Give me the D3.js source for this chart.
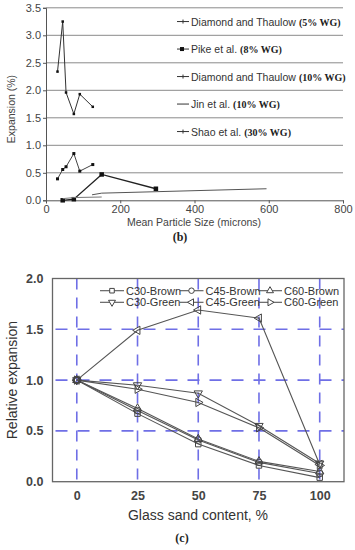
<!DOCTYPE html>
<html><head><meta charset="utf-8">
<script src="https://cdn.jsdelivr.net/npm/d3@7"></script>
<style>body{margin:0;background:#fff}svg{display:block}</style>
</head><body>
<script>
// ---- Chart (b) data ----
const bNames = ["Diamond and Thaulow", "Pike et al.", "Diamond and Thaulow", "Jin et al.", "Shao et al."];
const bTags = ["(5% WG)", "(8% WG)", "(10% WG)", "(10% WG)", "(30% WG)"];
const dt5X = [31, 45, 54, 75, 91, 126];
const dt5Y = [2.34, 3.25, 1.96, 1.57, 1.93, 1.70];
const pikeX = [45, 75, 150, 296];
const pikeY = [0.0, 0.02, 0.47, 0.21];
const dt10X = [31, 45, 54, 75, 91, 126];
const dt10Y = [0.39, 0.56, 0.61, 0.85, 0.53, 0.65];
const jinX = [45, 75, 150];
const jinY = [0.03, 0.05, 0.06];
const shaoX = [124, 150, 594];
const shaoY = [0.10, 0.13, 0.21];
const bXTicks = [0, 200, 400, 600, 800];
const bYTicks = [0, 0.5, 1.0, 1.5, 2.0, 2.5, 3.0, 3.5];

// ---- Chart (c) data ----
const cX = [0, 25, 50, 75, 100];
const cNames = ["C30-Brown", "C45-Brown", "C60-Brown", "C30-Green", "C45-Green", "C60-Green"];
const c30Brown = [1.0, 0.67, 0.37, 0.16, 0.04];
const c45Brown = [1.0, 0.70, 0.41, 0.19, 0.08];
const c60Brown = [1.0, 0.72, 0.42, 0.20, 0.10];
const c30Green = [1.0, 0.95, 0.87, 0.55, 0.18];
const c45Green = [1.0, 1.49, 1.69, 1.61, 0.17];
const c60Green = [1.0, 0.91, 0.78, 0.53, 0.16];
const cXTicks = [0, 25, 50, 75, 100];
const cYTicks = [0.0, 0.5, 1.0, 1.5, 2.0];

const svg = d3.select("body").append("svg").attr("width", 355).attr("height", 550);

// ================= Chart (b) =================
const bx = d3.scaleLinear().domain([0, 800]).range([46, 343]);
const by = d3.scaleLinear().domain([0, 3.5]).range([200.3, 7.8]);
const gb = svg.append("g");

gb.selectAll(".gl").data(bYTicks.filter(v => v > 0)).join("line")
  .attr("x1", bx(0)).attr("x2", bx(800)).attr("y1", d => by(d)).attr("y2", d => by(d))
  .attr("stroke", "#8a8a8a").attr("stroke-width", 1);

const bxAxis = d3.axisBottom(bx).tickValues(bXTicks).tickSize(3).tickPadding(2).tickFormat(d3.format("d"));
const byAxis = d3.axisLeft(by).tickValues(bYTicks).tickSize(3).tickPadding(2).tickFormat(d3.format(".1f"));
const gbx = gb.append("g").attr("transform", `translate(0,${by(0)})`).call(bxAxis);
const gby = gb.append("g").attr("transform", `translate(${bx(0)},0)`).call(byAxis);
[gbx, gby].forEach(g => {
  g.select(".domain").attr("stroke", "#555");
  g.selectAll(".tick line").attr("stroke", "#555");
  g.selectAll("text").attr("font-family", "Arial, Liberation Sans, sans-serif").attr("font-size", 11).attr("fill", "#444");
});
gb.append("text").attr("x", 194).attr("y", 226).attr("text-anchor", "middle")
  .attr("font-family", "Arial, Liberation Sans, sans-serif").attr("font-size", 10.5).attr("fill", "#444")
  .text("Mean Particle Size (microns)");
gb.append("text").attr("transform", `translate(15,${(by(0) + by(3.5)) / 2 + 5}) rotate(-90)`)
  .attr("text-anchor", "middle").attr("font-family", "Arial, Liberation Sans, sans-serif")
  .attr("font-size", 10.5).attr("fill", "#444").text("Expansion (%)");
gb.append("text").attr("x", 180).attr("y", 241).attr("text-anchor", "middle")
  .attr("font-family", "Times New Roman, Liberation Serif, serif").attr("font-weight", "bold")
  .attr("font-size", 12).attr("fill", "#222").text("(b)");

const bSeries = [
  {xs: dt5X, ys: dt5Y, color: "#333", w: 1, mark: "dot"},
  {xs: pikeX, ys: pikeY, color: "#222", w: 1.3, mark: "sq"},
  {xs: dt10X, ys: dt10Y, color: "#444", w: 1, mark: "small"},
  {xs: jinX, ys: jinY, color: "#777", w: 1, mark: "none"},
  {xs: shaoX, ys: shaoY, color: "#555", w: 1, mark: "tick"}
];
const bLine = d3.line().x(d => bx(d[0])).y(d => by(d[1]));
bSeries.forEach(s => {
  const pts = s.xs.map((x, i) => [x, s.ys[i]]);
  gb.append("path").datum(pts).attr("d", bLine).attr("fill", "none")
    .attr("stroke", s.color).attr("stroke-width", s.w);
  if (s.mark === "dot" || s.mark === "small" || s.mark === "sq") {
    const sz = s.mark === "sq" ? 4.5 : (s.mark === "small" ? 3 : 2.5);
    gb.selectAll(null).data(pts).join("rect")
      .attr("x", d => bx(d[0]) - sz / 2).attr("y", d => by(d[1]) - sz / 2)
      .attr("width", sz).attr("height", sz).attr("fill", "#111");
  }
});

// legend (b)
const legRows = [3.25, 2.75, 2.25, 1.75, 1.25];
bNames.forEach((n, i) => {
  const y = by(legRows[i]);
  const g = gb.append("g");
  g.append("line").attr("x1", 177).attr("x2", 189).attr("y1", y).attr("y2", y)
    .attr("stroke", "#333").attr("stroke-width", 1);
  if (i === 1) g.append("rect").attr("x", 180).attr("y", y - 2).attr("width", 4).attr("height", 4).attr("fill", "#111");
  else if (i !== 3) g.append("line").attr("x1", 183).attr("x2", 183).attr("y1", y - 2).attr("y2", y + 2).attr("stroke", "#333");
  const t = g.append("text").attr("x", 191).attr("y", y + 4)
    .attr("font-family", "Arial, Liberation Sans, sans-serif").attr("font-size", 10.5).attr("fill", "#333");
  t.append("tspan").text(n);
  t.append("tspan").attr("dx", 3).attr("font-family", "Times New Roman, Liberation Serif, serif")
    .attr("font-weight", "bold").attr("font-size", 10).attr("fill", "#222").text(bTags[i]);
});

// ================= Chart (c) =================
const cx = d3.scaleLinear().domain([-10, 110]).range([52.5, 344]);
const cy = d3.scaleLinear().domain([0, 2]).range([481.7, 278.5]);
const gc = svg.append("g");
const blue = "#6f6fe6";
gc.selectAll(".vg").data(cXTicks).join("line")
  .attr("x1", d => cx(d)).attr("x2", d => cx(d)).attr("y1", cy(2)).attr("y2", cy(0))
  .attr("stroke", blue).attr("stroke-width", 1.6).attr("stroke-dasharray", "11,8");
gc.selectAll(".hg").data([0.5, 1.0, 1.5]).join("line")
  .attr("x1", cx(-10)).attr("x2", cx(110)).attr("y1", d => cy(d)).attr("y2", d => cy(d))
  .attr("stroke", blue).attr("stroke-width", 1.6).attr("stroke-dasharray", "12,10").attr("stroke-dashoffset", -3);

gc.append("rect").attr("x", cx(-10)).attr("y", cy(2)).attr("width", cx(110) - cx(-10))
  .attr("height", cy(0) - cy(2)).attr("fill", "none").attr("stroke", "#666").attr("stroke-width", 1.3);

const cxAxis = d3.axisBottom(cx).tickValues(cXTicks).tickSize(0).tickPadding(9);
const cyAxis = d3.axisLeft(cy).tickValues(cYTicks).tickSize(0).tickPadding(9).tickFormat(d3.format(".1f"));
const gcx = gc.append("g").attr("transform", `translate(0,${cy(0)})`).call(cxAxis);
const gcy = gc.append("g").attr("transform", `translate(${cx(-10)},0)`).call(cyAxis);
[gcx, gcy].forEach(g => {
  g.select(".domain").remove();
  g.selectAll("text").attr("font-family", "Arial, Liberation Sans, sans-serif").attr("font-size", 12.5)
    .attr("font-weight", "bold").attr("fill", "#444");
});
gc.append("text").attr("x", 198).attr("y", 520).attr("text-anchor", "middle")
  .attr("font-family", "Arial, Liberation Sans, sans-serif").attr("font-size", 14).attr("fill", "#333")
  .text("Glass sand content, %");
gc.append("text").attr("transform", `translate(17,${cy(1)}) rotate(-90)`).attr("text-anchor", "middle")
  .attr("font-family", "Arial, Liberation Sans, sans-serif").attr("font-size", 14).attr("fill", "#333")
  .text("Relative expansion");
gc.append("text").attr("x", 182).attr("y", 542).attr("text-anchor", "middle")
  .attr("font-family", "Times New Roman, Liberation Serif, serif").attr("font-weight", "bold")
  .attr("font-size", 12).attr("fill", "#222").text("(c)");

const cSeries = [
  {vals: c30Brown, type: d3.symbolSquare, rot: 0, size: 30},
  {vals: c45Brown, type: d3.symbolCircle, rot: 0, size: 34},
  {vals: c60Brown, type: d3.symbolTriangle, rot: 0, size: 30},
  {vals: c30Green, type: d3.symbolTriangle, rot: 180, size: 30},
  {vals: c45Green, type: d3.symbolTriangle, rot: -90, size: 30},
  {vals: c60Green, type: d3.symbolTriangle, rot: 90, size: 30}
];
const cLine = d3.line().x(d => cx(d[0])).y(d => cy(d[1]));
cSeries.forEach(s => {
  const pts = cX.map((x, i) => [x, s.vals[i]]);
  gc.append("path").datum(pts).attr("d", cLine).attr("fill", "none")
    .attr("stroke", "#555").attr("stroke-width", 1.1);
});
cSeries.forEach(s => {
  const pts = cX.map((x, i) => [x, s.vals[i]]);
  gc.selectAll(null).data(pts).join("path")
    .attr("d", d3.symbol().type(s.type).size(s.size))
    .attr("transform", d => `translate(${cx(d[0])},${cy(d[1])}) rotate(${s.rot})`)
    .attr("fill", "none").attr("stroke", "#444").attr("stroke-width", 1);
});

// legend (c)
const legCols = [112, 191.5, 270];
cSeries.forEach((s, i) => {
  const col = i % 3, row = Math.floor(i / 3);
  const mx = legCols[col], y = row === 0 ? 290.7 : 302.3;
  const g = gc.append("g");
  g.append("line").attr("x1", mx - 12).attr("x2", mx + 12).attr("y1", y).attr("y2", y)
    .attr("stroke", "#555").attr("stroke-width", 1.1);
  g.append("path").attr("d", d3.symbol().type(s.type).size(s.size * 0.7)())
    .attr("transform", `translate(${mx},${y}) rotate(${s.rot})`)
    .attr("fill", "#fff").attr("stroke", "#444").attr("stroke-width", 1);
  g.append("text").attr("x", mx + 14).attr("y", y + 4)
    .attr("font-family", "Arial, Liberation Sans, sans-serif").attr("font-size", 11).attr("fill", "#333")
    .text(cNames[i]);
});
</script>
</body></html>
